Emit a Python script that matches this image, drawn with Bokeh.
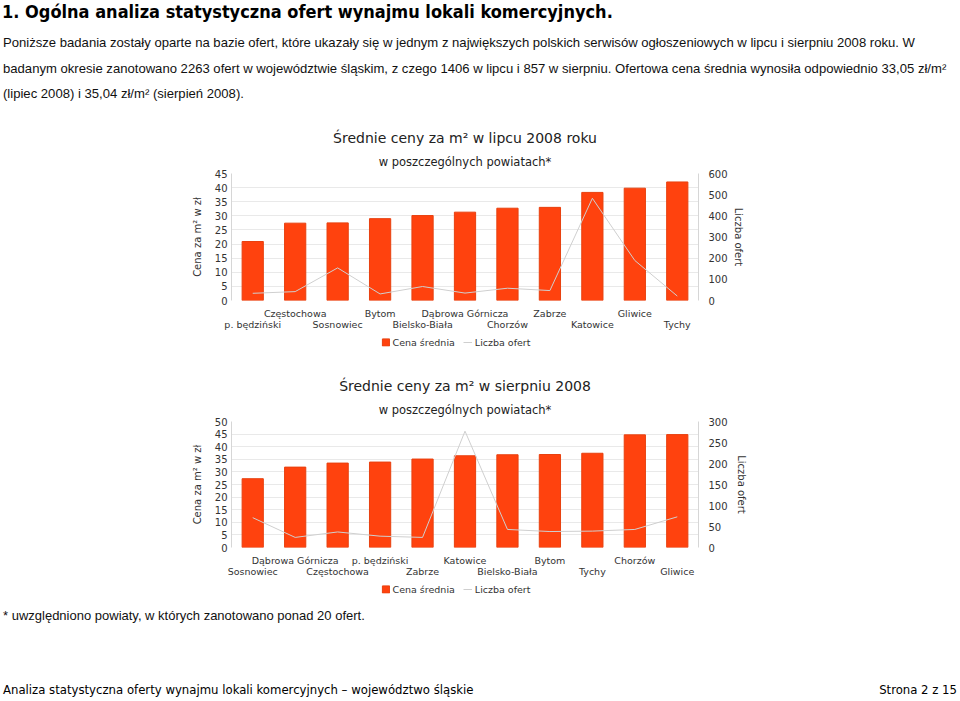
from bokeh.plotting import figure
from bokeh.models import (Range1d, LinearAxis, FixedTicker, Title, Legend, LegendItem,
                          Div, ColumnDataSource)
from bokeh.layouts import column
from bokeh.embed import file_html
from bokeh.resources import INLINE

# ---- data: July 2008 ----
jul_districts = ["p. będziński", "Częstochowa", "Sosnowiec", "Bytom", "Bielsko-Biała",
                 "Dąbrowa Górnicza", "Chorzów", "Zabrze", "Katowice", "Gliwice", "Tychy"]
jul_price = [20.9, 27.4, 27.5, 29.0, 30.1, 31.3, 32.7, 33.0, 38.3, 39.8, 42.0]
jul_count = [34, 42, 154, 31, 66, 35, 58, 47, 483, 189, 21]
jul_price_ticks = [0, 5, 10, 15, 20, 25, 30, 35, 40, 45]
jul_count_ticks = [0, 100, 200, 300, 400, 500, 600]

# ---- data: August 2008 ----
aug_districts = ["Sosnowiec", "Dąbrowa Górnicza", "Częstochowa", "p. będziński", "Zabrze",
                 "Katowice", "Bielsko-Biała", "Bytom", "Tychy", "Chorzów", "Gliwice"]
aug_price = [27.3, 31.9, 33.5, 33.9, 35.1, 36.4, 36.8, 36.9, 37.4, 44.7, 44.8]
aug_count = [71, 24, 37, 27, 24, 277, 43, 38, 39, 43, 73]
aug_price_ticks = [0, 5, 10, 15, 20, 25, 30, 35, 40, 45, 50]
aug_count_ticks = [0, 50, 100, 150, 200, 250, 300]

series_labels = ["Cena średnia", "Liczba ofert"]

FONT = "DejaVu Sans"
TXT = "#333333"
BAR = "#ff420e"
BAR_EDGE = "#e8400f"
LINE = "#cfcfcf"


def make_chart(title, subtitle, cats, price, count, price_ticks, count_ticks,
               height, b_top, b_bottom, b_left, b_right, r_label_standoff):
    x = list(range(len(cats)))
    src = ColumnDataSource(dict(x=x, price=price, count=count, name=cats))
    p = figure(width=960, height=height, output_backend="svg", toolbar_location=None,
               x_range=Range1d(-0.5, len(cats) - 0.5),
               y_range=Range1d(price_ticks[0], price_ticks[-1]),
               x_axis_location=None, y_axis_location="left",
               min_border_left=b_left, min_border_right=b_right,
               min_border_top=b_top, min_border_bottom=b_bottom)
    p.extra_y_ranges = {"count": Range1d(count_ticks[0], count_ticks[-1])}
    p.outline_line_color = None
    p.background_fill_color = "white"
    p.border_fill_color = "white"

    p.xgrid.visible = False
    p.ygrid.ticker = FixedTicker(ticks=price_ticks)
    p.ygrid.grid_line_color = "#e9e9e9"

    p.vbar(x="x", top="price", width=0.5, source=src,
           fill_color=BAR, line_color=BAR_EDGE, line_width=1)
    p.line(x="x", y="count", y_range_name="count", source=src,
           line_color=LINE, line_width=1)

    def style_axis(ax, size="10px"):
        ax.major_label_text_font = FONT
        ax.major_label_text_font_size = size
        ax.major_label_text_color = TXT
        ax.axis_label_text_font = FONT
        ax.axis_label_text_font_size = "10px"
        ax.axis_label_text_font_style = "normal"
        ax.axis_label_text_color = TXT
        ax.major_tick_out = 0
        ax.major_tick_in = 0
        ax.minor_tick_out = 0
        ax.minor_tick_in = 0

    ly = p.yaxis[0]
    ly.ticker = FixedTicker(ticks=price_ticks)
    ly.axis_label = "Cena za m² w zł"
    style_axis(ly)
    ly.axis_line_color = "#d6d6d6"
    ly.major_label_standoff = 4
    ly.axis_label_standoff = 9

    ry = LinearAxis(y_range_name="count", ticker=FixedTicker(ticks=count_ticks),
                    axis_label="Liczba ofert")
    style_axis(ry)
    ry.axis_line_color = "#d6d6d6"
    ry.major_label_standoff = 10
    ry.axis_label_standoff = r_label_standoff
    try:
        ry.axis_label_orientation = "vertical"
    except Exception:
        pass
    p.add_layout(ry, "right")

    odd = [i for i in x if i % 2 == 1]
    even = [i for i in x if i % 2 == 0]
    ax1 = LinearAxis(ticker=FixedTicker(ticks=odd),
                     major_label_overrides={i: cats[i] for i in odd})
    style_axis(ax1, "9.5px")
    ax1.axis_line_color = None
    ax1.major_label_standoff = 7
    ax2 = LinearAxis(ticker=FixedTicker(ticks=even),
                     major_label_overrides={i: cats[i] for i in even})
    style_axis(ax2, "9.5px")
    ax2.axis_line_color = None
    ax2.major_label_standoff = -3
    p.add_layout(ax1, "below")
    p.add_layout(ax2, "below")

    st = Title(text=subtitle, align="center", text_font=FONT, text_font_size="11.5px",
               text_font_style="normal", text_color="#222222", standoff=9)
    mt = Title(text=title, align="center", text_font=FONT, text_font_size="14px",
               text_font_style="normal", text_color="#222222", standoff=5)
    p.add_layout(st, "above")
    p.add_layout(mt, "above")
    return p, src, len(cats)


def make_legend(src, n, height, width):
    # strip holding the chart legend; its renderers mirror the chart's series
    # but are hidden, so only the legend itself is drawn
    q = figure(width=width, height=height, output_backend="svg", toolbar_location=None,
               x_range=Range1d(-0.5, n - 0.5), y_range=Range1d(-2, -1),
               x_axis_location=None, y_axis_location=None,
               min_border_left=0, min_border_right=0, min_border_top=0, min_border_bottom=0)
    q.outline_line_color = None
    q.xgrid.visible = False
    q.ygrid.visible = False
    q.background_fill_color = "white"
    q.border_fill_color = "white"
    b = q.vbar(x="x", top="price", width=0.5, source=src,
               fill_color=BAR, line_color=BAR_EDGE, line_width=1)
    l = q.line(x="x", y="count", source=src, line_color=LINE, line_width=1)
    b.visible = False
    l.visible = False
    legend = Legend(items=[LegendItem(label=series_labels[0], renderers=[b]),
                           LegendItem(label=series_labels[1], renderers=[l])],
                    orientation="horizontal", location="center",
                    border_line_color=None, background_fill_alpha=0,
                    inactive_fill_alpha=0,
                    label_text_font=FONT, label_text_font_size="9.5px",
                    label_text_color=TXT, glyph_width=9, glyph_height=9,
                    padding=0, margin=0, spacing=8, label_standoff=3,
                    label_height=10)
    q.add_layout(legend)
    return q


p1, src1, n1 = make_chart("Średnie ceny za m² w lipcu 2008 roku", "w poszczególnych powiatach*",
                          jul_districts, jul_price, jul_count, jul_price_ticks, jul_count_ticks,
                          height=221, b_top=61, b_bottom=33, b_left=230, b_right=262,
                          r_label_standoff=2)
lg1 = make_legend(src1, n1, 17, 942)
p2, src2, n2 = make_chart("Średnie ceny za m² w sierpniu 2008", "w poszczególnych powiatach*",
                          aug_districts, aug_price, aug_count, aug_price_ticks, aug_count_ticks,
                          height=230, b_top=71, b_bottom=33, b_left=231, b_right=260,
                          r_label_standoff=5)
lg2 = make_legend(src2, n2, 17, 942)

header_html = (
    "<div style=\"margin:0;padding:0 0 0 2px;font-family:'DejaVu Sans Condensed','DejaVu Sans',sans-serif;"
    "font-weight:bold;font-size:18px;line-height:24px;color:#000;white-space:nowrap;\">"
    "1. Ogólna analiza statystyczna ofert wynajmu lokali komercyjnych.</div>"
    "<div style=\"margin:6px 0 0 3px;font-family:'Liberation Sans',Arial,sans-serif;font-size:13.1px;"
    "line-height:25.5px;color:#111;white-space:nowrap;\">"
    "Poniższe badania zostały oparte na bazie ofert, które ukazały się w jednym z największych polskich "
    "serwisów ogłoszeniowych w lipcu i sierpniu 2008 roku. W<br>"
    "badanym okresie zanotowano 2263 ofert w województwie śląskim, z czego 1406 w lipcu i 857 w sierpniu. "
    "Ofertowa cena średnia wynosiła odpowiednio 33,05 zł/m²<br>"
    "(lipiec 2008) i 35,04 zł/m² (sierpień 2008).</div>"
)
header = Div(text=header_html, width=960, height=112, margin=0)

footer_html = (
    "<div style=\"position:relative;width:960px;height:104px;margin:0;\">"
    "<div style=\"position:absolute;left:3px;top:11px;font-family:'Liberation Sans',Arial,sans-serif;"
    "font-size:13px;line-height:16px;color:#111;white-space:nowrap;\">"
    "* uwzględniono powiaty, w których zanotowano ponad 20 ofert.</div>"
    "<div style=\"position:absolute;left:3px;top:84px;font-family:'DejaVu Sans Condensed','DejaVu Sans',sans-serif;"
    "font-size:13px;line-height:18px;color:#000;white-space:nowrap;\">"
    "Analiza statystyczna oferty wynajmu lokali komercyjnych – województwo śląskie</div>"
    "<div style=\"position:absolute;right:3px;top:84px;font-family:'DejaVu Sans Condensed','DejaVu Sans',sans-serif;"
    "font-size:13px;line-height:18px;color:#000;white-space:nowrap;\">"
    "Strona 2 z 15</div>"
    "</div>"
)
footer = Div(text=footer_html, width=960, height=104, margin=0)

layout = column(header, p1, lg1, p2, lg2, footer, spacing=0)

open("out.html", "w").write(file_html(layout, INLINE))
